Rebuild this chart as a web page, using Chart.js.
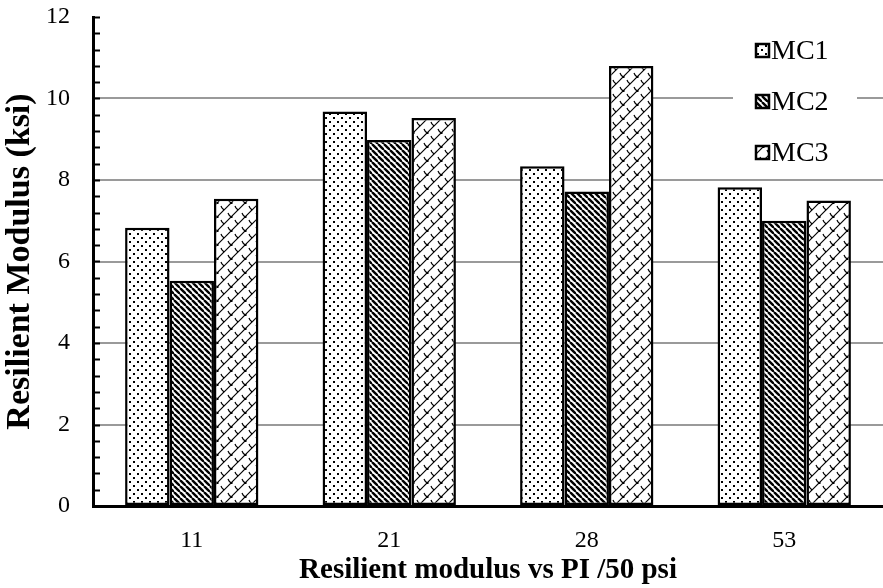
<!DOCTYPE html>
<html>
<head>
<meta charset="utf-8">
<script src="https://cdn.jsdelivr.net/npm/chart.js@4.4.1/dist/chart.umd.min.js"></script>
<style>
  html, body { margin: 0; padding: 0; background: #fff; }
  #wrap { width: 883px; height: 588px; position: relative; }
</style>
</head>
<body>
<div id="wrap"><canvas id="chart"></canvas></div>
<script>
// data
const categories = ["11", "21", "28", "53"];
const seriesNames = ["MC1", "MC2", "MC3"];
const mc1 = [6.83, 9.68, 8.34, 7.82];
const mc2 = [5.53, 8.98, 7.72, 7.0];
const mc3 = [7.54, 9.52, 10.8, 7.5];
const yTicks = [0, 2, 4, 6, 8, 10, 12];

const FONT = "'Liberation Serif', 'Times New Roman', serif";

// fill patterns
function makeTile(size, draw) {
  const c = document.createElement("canvas");
  c.width = size; c.height = size;
  const g = c.getContext("2d");
  g.fillStyle = "#fff";
  g.fillRect(0, 0, size, size);
  draw(g, size);
  return c;
}
const ctx = document.getElementById("chart").getContext("2d");

const dotTile = makeTile(8, (g) => {
  g.fillStyle = "#000";
  g.fillRect(1, 1, 2, 2);
  g.fillRect(5, 5, 2, 2);
});
const hatchTile = makeTile(6, (g, s) => {
  g.strokeStyle = "#000";
  g.lineWidth = 2.4;
  for (let k = -1; k <= 1; k++) {
    g.beginPath();
    g.moveTo(k * s, 0);
    g.lineTo(k * s + s, s);
    g.stroke();
  }
});
const shingleTile = makeTile(14, (g, s) => {
  g.strokeStyle = "#000";
  g.lineWidth = 1.2;
  for (let k = -1; k <= 1; k++) {
    g.beginPath();
    g.moveTo(k * s, s);
    g.lineTo(k * s + s, 0);
    g.stroke();
  }
  // small curved strokes joining neighbouring diagonals
  g.beginPath();
  g.moveTo(4, 3);
  g.quadraticCurveTo(5, 6, 7.5, 7);
  g.moveTo(11, 10);
  g.quadraticCurveTo(12, 13, 14.5, 14);
  g.moveTo(-3, -4);
  g.quadraticCurveTo(-2, -1, 0.5, 0);
  g.stroke();
  g.fillStyle = "#000";
  g.fillRect(6.5, 6, 2, 2);
});

const patterns = [
  ctx.createPattern(dotTile, "repeat"),
  ctx.createPattern(hatchTile, "repeat"),
  ctx.createPattern(shingleTile, "repeat")
];

// minor ticks on the inside of the y axis, plus the boxed legend
const extras = {
  id: "extras",
  afterDraw(chart) {
    const g = chart.ctx;
    const y = chart.scales.y;
    const left = chart.chartArea.left;
    g.save();
    g.strokeStyle = "#000";
    g.lineWidth = 2;
    for (let v = 0; v <= 12.001; v += 0.4) {
      const p = Math.round(y.getPixelForValue(v)) + 0.5;
      g.beginPath();
      g.moveTo(left, p);
      g.lineTo(left + 7, p);
      g.stroke();
    }
    // legend
    g.fillStyle = "#fff";
    g.fillRect(733, 22, 124, 152);
    g.font = "28px " + FONT;
    g.textBaseline = "middle";
    seriesNames.forEach((name, i) => {
      const cy = 51 + i * 51;
      g.fillStyle = patterns[i];
      g.fillRect(756, cy - 7, 13, 13);
      g.lineWidth = 2.5;
      g.strokeStyle = "#000";
      g.strokeRect(756, cy - 7, 13, 13);
      g.fillStyle = "#000";
      g.fillText(name, 771, cy + 1);
    });
    g.restore();
  }
};

new Chart(ctx, {
  type: "bar",
  data: {
    labels: categories,
    datasets: [mc1, mc2, mc3].map((d, i) => ({
      label: seriesNames[i],
      data: d,
      backgroundColor: patterns[i],
      borderColor: "#000",
      borderWidth: 2.5,
      borderSkipped: false,
      barPercentage: 1,
      categoryPercentage: 0.675
    }))
  },
  options: {
    responsive: true,
    maintainAspectRatio: false,
    animation: false,
    layout: { padding: { top: 17, right: 0, left: 0, bottom: 0 } },
    plugins: { legend: { display: false }, tooltip: { enabled: false } },
    scales: {
      x: {
        grid: { display: false, drawTicks: false },
        border: { display: true, color: "#000", width: 3 },
        ticks: { color: "#000", font: { family: FONT, size: 24 }, padding: 20 },
        title: {
          display: true,
          text: "Resilient modulus vs PI /50 psi",
          color: "#000",
          font: { family: FONT, size: 29, weight: "bold" },
          padding: { top: 0, bottom: 0 }
        },
        afterFit(s) { s.height = 82; }
      },
      y: {
        min: 0,
        max: 12,
        afterBuildTicks(s) { s.ticks = yTicks.map((v) => ({ value: v })); },
        grid: {
          color: (c) => (c.tick && (c.tick.value === 0 || c.tick.value === 12) ? "rgba(0,0,0,0)" : "#9a9a9a"),
          lineWidth: 2,
          drawTicks: false
        },
        border: { display: true, color: "#000", width: 3 },
        ticks: { color: "#000", font: { family: FONT, size: 24 }, padding: 23 },
        title: {
          display: true,
          text: "Resilient Modulus (ksi)",
          color: "#000",
          font: { family: FONT, size: 34, weight: "bold" },
          padding: { top: 0, bottom: 0 }
        },
        afterFit(s) {
          s.width = 93;
          s.paddingTop = 0;
          s.paddingBottom = 0;
        }
      }
    }
  },
  plugins: [extras]
});
</script>
</body>
</html>
